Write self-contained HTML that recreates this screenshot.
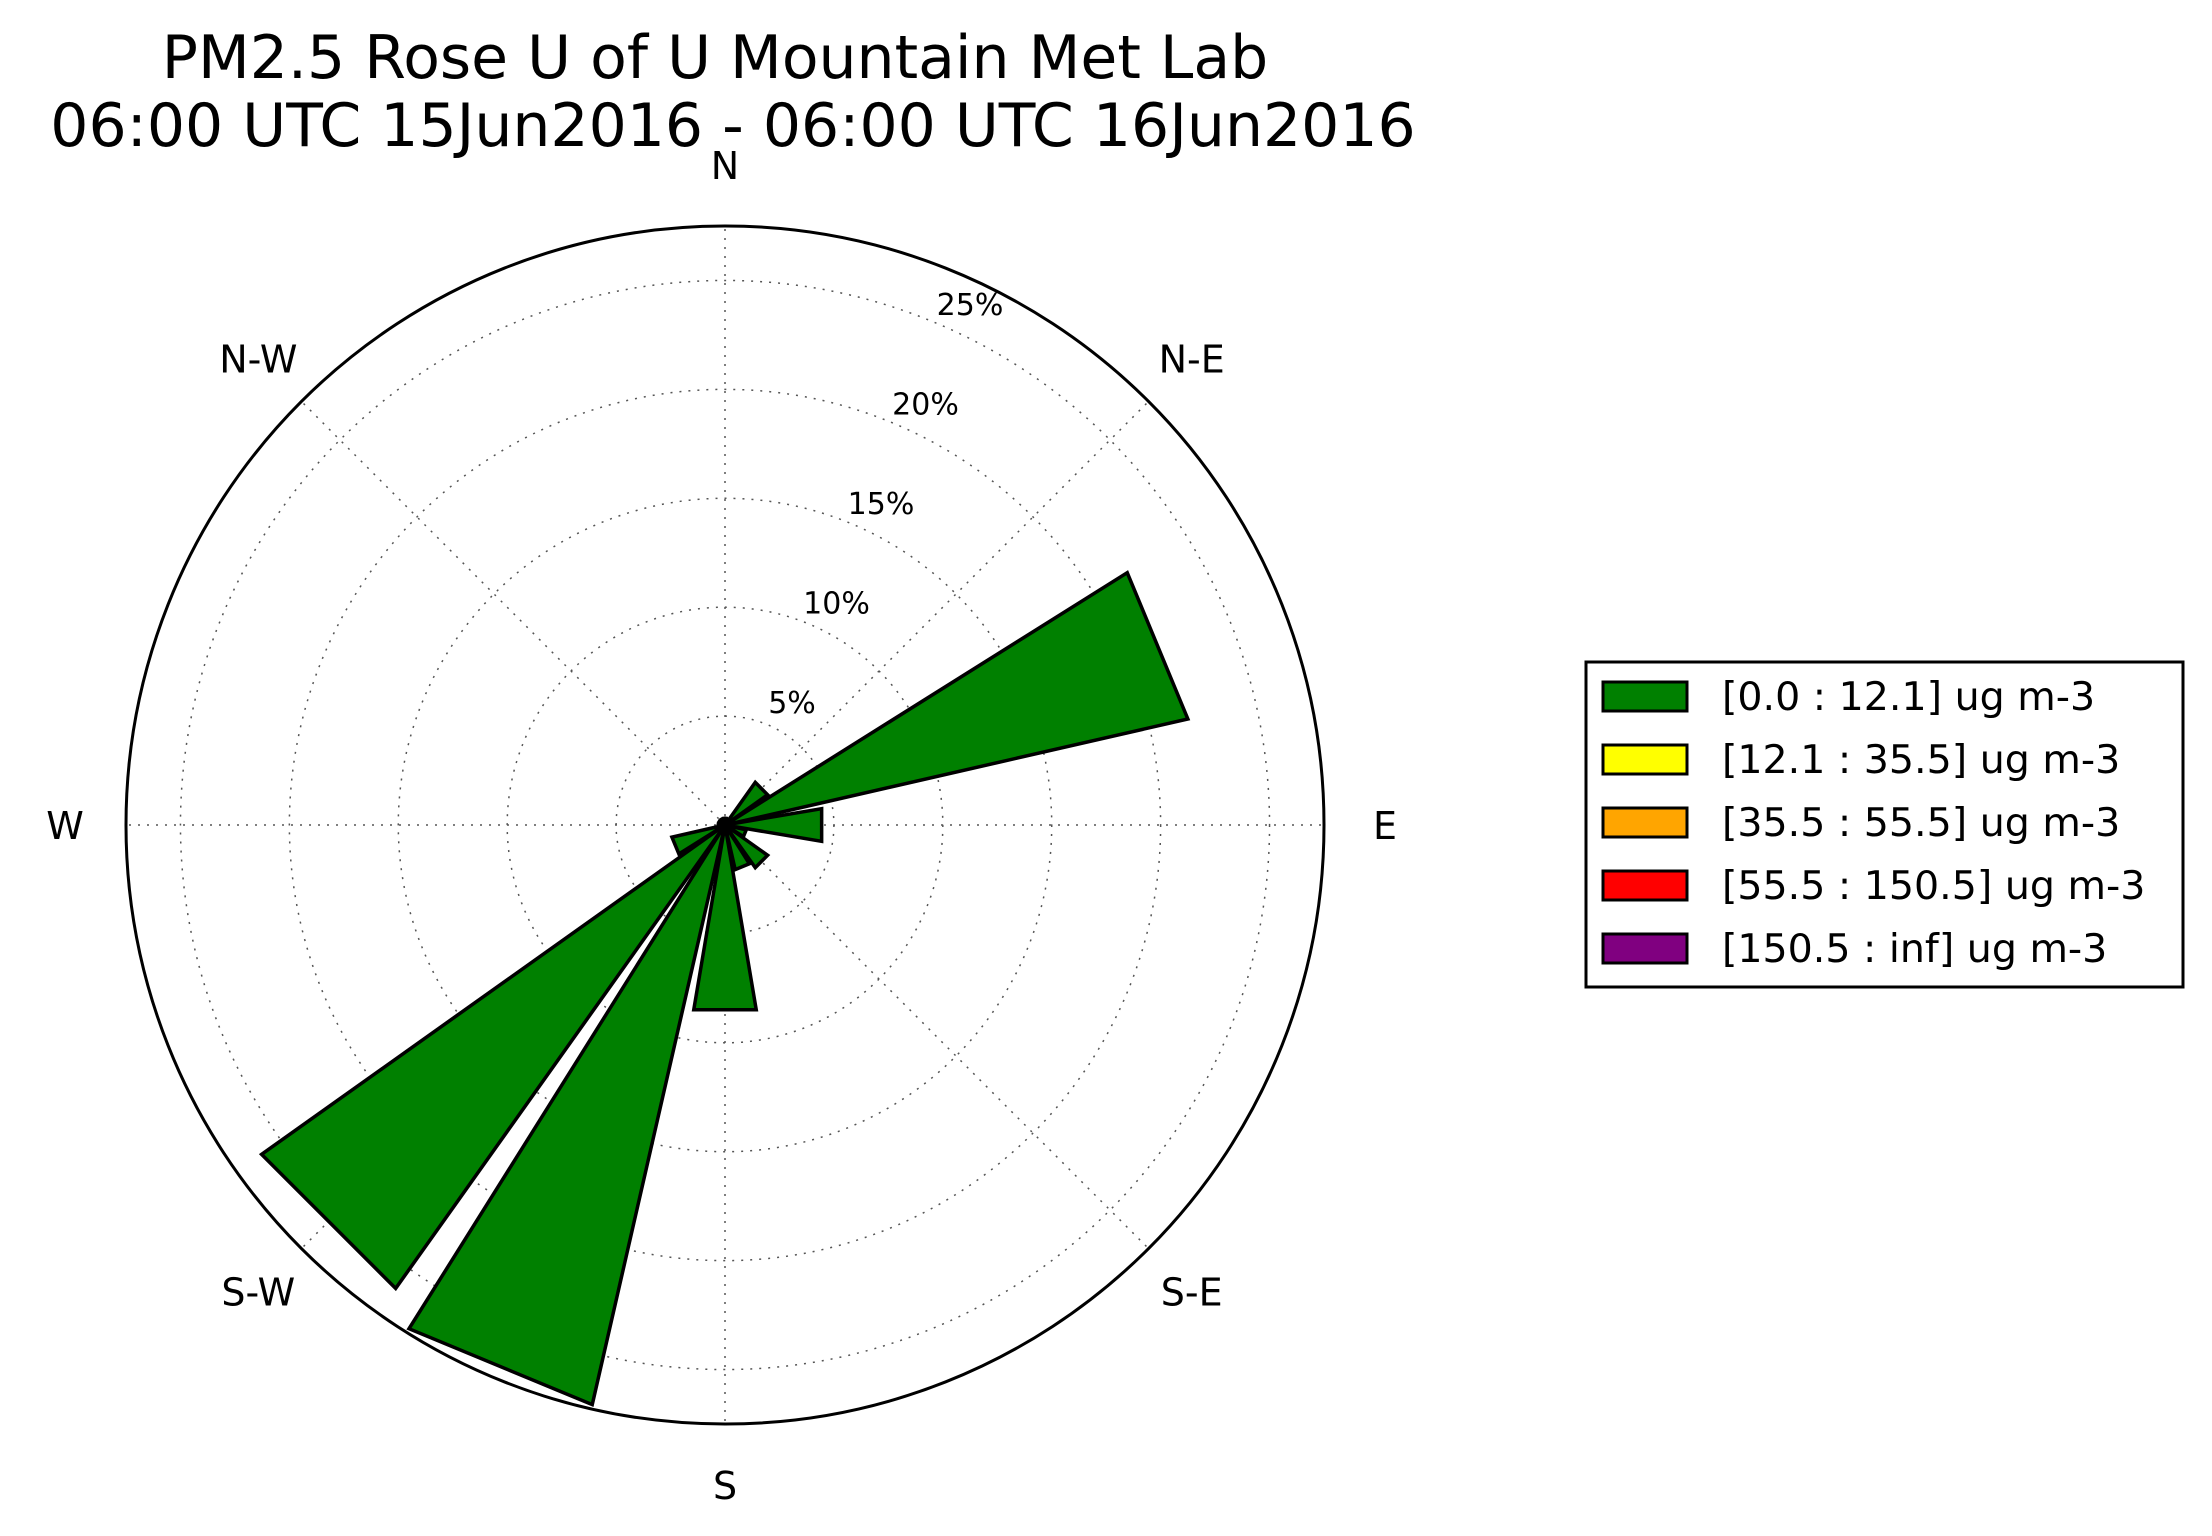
<!DOCTYPE html>
<html><head><meta charset="utf-8"><style>
html,body{margin:0;padding:0;background:#fff;}
svg{display:block;font-family:"DejaVu Sans","Liberation Sans",sans-serif;}
</style></head>
<body>
<svg id="chart" width="2212" height="1536" viewBox="0 0 2212 1536">
  <g>
    <text x="715" y="78" font-size="60" text-anchor="middle">PM2.5 Rose U of U Mountain Met Lab</text>
    <text x="733" y="146" font-size="60" text-anchor="middle">06:00 UTC 15Jun2016 - 06:00 UTC 16Jun2016</text>
  </g>
  <g id="grid"></g>
  <g id="bars"></g>
  <circle cx="725" cy="825" r="599" fill="none" stroke="#000" stroke-width="3"/>
  <g id="labels"></g>
  <g id="rlabels"></g>
  <g>
    <rect x="1586" y="662" width="597" height="325" fill="#fff" stroke="#000" stroke-width="3"/>
    <g id="legend-items"></g>
  </g>
</svg>
<script>
const directions = ["N","NNE","NE","ENE","E","ESE","SE","SSE","S","SSW","SW","WSW","W","WNW","NW","NNW"];
const directionAngles = [0,22.5,45,67.5,90,112.5,135,157.5,180,202.5,225,247.5,270,292.5,315,337.5];
const percentValues = [0.3,0.3,2.4,21.8,4.5,1.0,2.4,2.1,8.6,27.3,26.1,2.5,0.3,0.3,0.3,0.3];
const radialTicks = [5,10,15,20,25];
const radialTickLabels = ["5%","10%","15%","20%","25%"];
const compassLabels = ["N","N-E","E","S-E","S","S-W","W","N-W"];
const compassAngles = [0,45,90,135,180,225,270,315];
const legendLabels = ["[0.0 : 12.1] ug m-3","[12.1 : 35.5] ug m-3","[35.5 : 55.5] ug m-3","[55.5 : 150.5] ug m-3","[150.5 : inf] ug m-3"];
const legendColors = ["#008000","#ffff00","#ffa500","#ff0000","#800080"];

const NS = "http://www.w3.org/2000/svg";
const CX = 725, CY = 825, RMAX = 27.5, RPX = 599;
function rScale(v){ return v / RMAX * RPX; }
function pt(angleDeg, v){ const a = angleDeg*Math.PI/180; return [CX + rScale(v)*Math.sin(a), CY - rScale(v)*Math.cos(a)]; }
function mk(tag, attrs, parent){ const e=document.createElementNS(NS,tag); for(const k in attrs) e.setAttribute(k, attrs[k]); parent.appendChild(e); return e; }

const grid = document.getElementById("grid");
radialTicks.forEach((t)=>{
  const c = mk("circle",{cx:CX,cy:CY,r:rScale(t),fill:"none",stroke:"#555","stroke-width":1.5,"stroke-dasharray":"2,7"},grid);
  
  
});
compassAngles.forEach((a)=>{
  const p = pt(a, RMAX);
  const l = mk("line",{x1:CX,y1:CY,x2:p[0],y2:p[1],stroke:"#555","stroke-width":1.5,"stroke-dasharray":"2,7"},grid);
  
  
});

const bars = document.getElementById("bars");
const halfWidth = 9.6;
percentValues.forEach((v,i)=>{
  const a = directionAngles[i];
  const p1 = pt(a-halfWidth, v), p2 = pt(a+halfWidth, v);
  const poly = mk("polygon",{points:`${CX},${CY} ${p1[0]},${p1[1]} ${p2[0]},${p2[1]}`,fill:"#008000",stroke:"#000","stroke-width":3.5,"stroke-linejoin":"miter"},bars);
  
  
});

const labels = document.getElementById("labels");
compassLabels.forEach((lab,i)=>{
  const a = compassAngles[i]*Math.PI/180;
  const R = 660;
  const x = CX + R*Math.sin(a), y = CY - R*Math.cos(a) + 14;
  const t = mk("text",{x:x,y:y,"font-size":38,"text-anchor":"middle"},labels);
  t.textContent = lab;
  
  
});

const rl = document.getElementById("rlabels");
radialTicks.forEach((t,i)=>{
  const x = CX + 22.5 + 8.9*t, y = CY - 22.5 - 19.9*t + 10;
  const e = mk("text",{x:x,y:y,"font-size":30,"text-anchor":"middle"},rl);
  e.textContent = radialTickLabels[i];
  
  
});

const li = document.getElementById("legend-items");
legendLabels.forEach((lab,i)=>{
  const y = 696 + i*63;
  const r = mk("rect",{x:1603,y:y-14,width:84,height:29,fill:legendColors[i],stroke:"#000","stroke-width":3},li);
  
  
  const t = mk("text",{x:1722,y:y+14,"font-size":39.5},li);
  t.textContent = lab;
  
  
});
</script>
</body></html>
